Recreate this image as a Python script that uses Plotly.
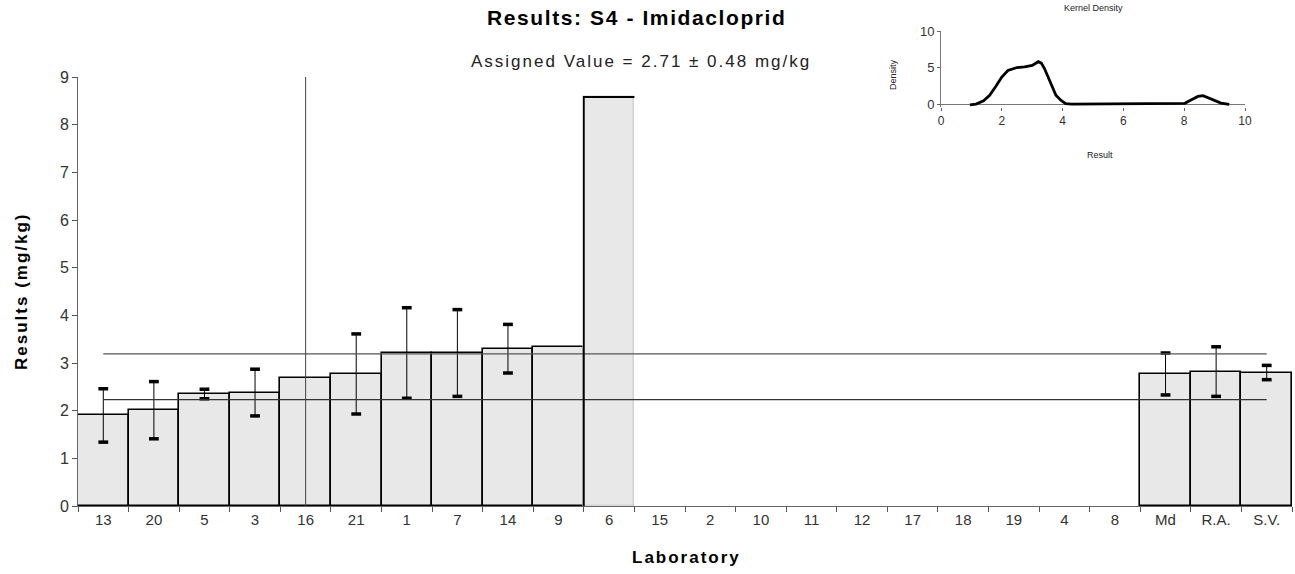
import plotly.graph_objects as go

# Laboratory results, sorted as reported (labs without a result are left empty)
labs = ["13", "20", "5", "3", "16", "21", "1", "7", "14", "9", "6",
        "15", "2", "10", "11", "12", "17", "18", "19", "4", "8",
        "Md", "R.A.", "S.V."]
results = [1.90, 2.01, 2.35, 2.38, 2.68, 2.77, 3.21, 3.21, 3.30, 3.33, 8.58,
           None, None, None, None, None, None, None, None, None, None,
           2.77, 2.82, 2.80]
uncert = [0.56, 0.60, 0.10, 0.49, None, 0.84, 0.95, 0.91, 0.51, None, None,
          None, None, None, None, None, None, None, None, None, None,
          0.44, 0.52, 0.15]

assigned = 2.71
assigned_u = 0.48
marker_lab = "16"

# Kernel density of the results
kd_x = [0.95, 1.15, 1.40, 1.60, 1.80, 2.00, 2.20, 2.50, 2.75, 3.00, 3.20, 3.30,
        3.40, 3.57, 3.78, 3.95, 4.10, 4.30, 6.00, 7.95, 8.02, 8.24, 8.45, 8.62,
        8.78, 9.00, 9.21, 9.48]
kd_y = [-0.10, 0.00, 0.45, 1.20, 2.40, 3.70, 4.60, 5.00, 5.10, 5.30, 5.80, 5.60,
        4.90, 3.30, 1.20, 0.50, 0.05, 0.00, 0.00, 0.00, 0.10, 0.60, 1.05, 1.15,
        0.90, 0.45, 0.14, -0.05]

W, H = 1295, 574
ML, MR, MT, MB = 78, 3, 25, 68
PW, PH = W - ML - MR, H - MT - MB


def px(x, y):
    """Pixel position -> paper coordinates."""
    return (x - ML) / PW, (H - MB - y) / PH


FONT = "Liberation Sans, Arial, sans-serif"
BAR_FILL = "#e8e8e8"

i_max = max(range(len(results)), key=lambda i: results[i] or 0)
outline = ["#d4d4d4" if i == i_max else "#000000" for i in range(len(labs))]

fig = go.Figure()

fig.add_trace(go.Bar(
    x=labs, y=results, width=1.0,
    marker=dict(color=BAR_FILL, line=dict(color=outline, width=1.6)),
    error_y=dict(type="data", array=uncert, visible=True,
                 thickness=1, width=0, color="#000000"),
    showlegend=False, hoverinfo="x+y",
))

# error-bar caps
cap_x, cap_y = [], []
for lab, v, u in zip(labs, results, uncert):
    if v is not None and u is not None:
        cap_x += [lab, lab]
        cap_y += [v + u, v - u]
fig.add_trace(go.Scatter(
    x=cap_x, y=cap_y, mode="markers",
    marker=dict(symbol="line-ew", size=7, line=dict(width=3.5, color="#000000")),
    showlegend=False, hoverinfo="skip",
))

# kernel density inset
fig.add_trace(go.Scatter(
    x=kd_x, y=kd_y, mode="lines", xaxis="x2", yaxis="y2",
    line=dict(color="#000000", width=2.8),
    showlegend=False, hoverinfo="skip",
))

shapes = []
# assigned value +/- uncertainty band limits
for lvl, col in [(assigned + assigned_u, "#555555"), (assigned - assigned_u, "#333333")]:
    shapes.append(dict(type="line", xref="x", yref="y", x0=0, x1=len(labs) - 1,
                       y0=lvl, y1=lvl, line=dict(color=col, width=1.2), layer="above"))
# vertical marker line
im = labs.index(marker_lab)
shapes.append(dict(type="line", xref="x", yref="y", x0=im, x1=im, y0=0, y1=9,
                   line=dict(color="#444444", width=1), layer="above"))
# outline of the outlying bar (left and top edges)
vm = results[i_max]
shapes.append(dict(type="path", xref="x", yref="y",
                   path=f"M {i_max - 0.5} 0 L {i_max - 0.5} {vm} L {i_max + 0.5} {vm}",
                   line=dict(color="#000000", width=1.8), layer="above"))

annotations = []


def text(x, y, s, size, bold=False, color="#000000", angle=0, spacing=0):
    xp, yp = px(x, y)
    if spacing:
        s = f'<span style="letter-spacing:{spacing}px">{s}</span>'
    if bold:
        s = f"<b>{s}</b>"
    annotations.append(dict(
        x=xp, y=yp, xref="paper", yref="paper", text=s,
        showarrow=False, xanchor="center", yanchor="middle", textangle=angle,
        font=dict(family=FONT, size=size, color=color)))


text(637, 18, "Results: S4 - Imidacloprid", 21, bold=True, spacing=1.6)
text(641, 61, "Assigned Value = 2.71 ± 0.48 mg/kg", 17, color="#222222", spacing=2)
text(22, 291, "Results (mg/kg)", 17, bold=True, angle=-90, spacing=2)
text(686, 557, "Laboratory", 17, bold=True, spacing=2)
text(1093, 8, "Kernel Density", 9, color="#222222")
text(893, 75, "Density", 9, color="#222222", angle=-90)
text(1100, 155, "Result", 9, color="#222222")

# inset placement
ix0, iy0 = px(941, 107)
ix1, iy1 = px(1245, 31)

fig.update_layout(
    width=W, height=H,
    margin=dict(l=ML, r=MR, t=MT, b=MB, autoexpand=False),
    paper_bgcolor="white", plot_bgcolor="white",
    bargap=0, showlegend=False,
    shapes=shapes, annotations=annotations,
    font=dict(family=FONT, color="#333333"),
    xaxis=dict(
        type="category", categoryorder="array", categoryarray=labs,
        range=[-0.5, len(labs) - 0.5], domain=[0, 1], anchor="y",
        tickson="boundaries", ticks="outside", ticklen=5, tickcolor="#555555",
        showline=True, linecolor="#666666", linewidth=1,
        showgrid=False, zeroline=False, automargin=False,
        tickfont=dict(size=15, color="#333333"),
    ),
    yaxis=dict(
        range=[0, 9], domain=[0, px(0, 77)[1]], anchor="x",
        dtick=1, ticks="outside", ticklen=5, tickcolor="#555555",
        showline=True, linecolor="#666666", linewidth=1,
        showgrid=False, zeroline=False, automargin=False,
        tickfont=dict(size=16, color="#333333"),
    ),
    xaxis2=dict(
        range=[0, 10], domain=[ix0, ix1], anchor="y2",
        tickvals=[0, 2, 4, 6, 8, 10], ticks="outside", ticklen=3,
        tickcolor="#666666", showline=False, showgrid=False,
        zeroline=False, automargin=False, tickfont=dict(size=12, color="#333333"),
    ),
    yaxis2=dict(
        range=[-0.4, 10], domain=[iy0, iy1], anchor="x2",
        tickvals=[0, 5, 10], ticks="outside", ticklen=3,
        tickcolor="#666666", showline=True, linecolor="#777777",
        showgrid=False, zeroline=True, zerolinecolor="#777777", zerolinewidth=1,
        automargin=False, tickfont=dict(size=13, color="#333333"),
    ),
)

fig.write_html("out.html")
